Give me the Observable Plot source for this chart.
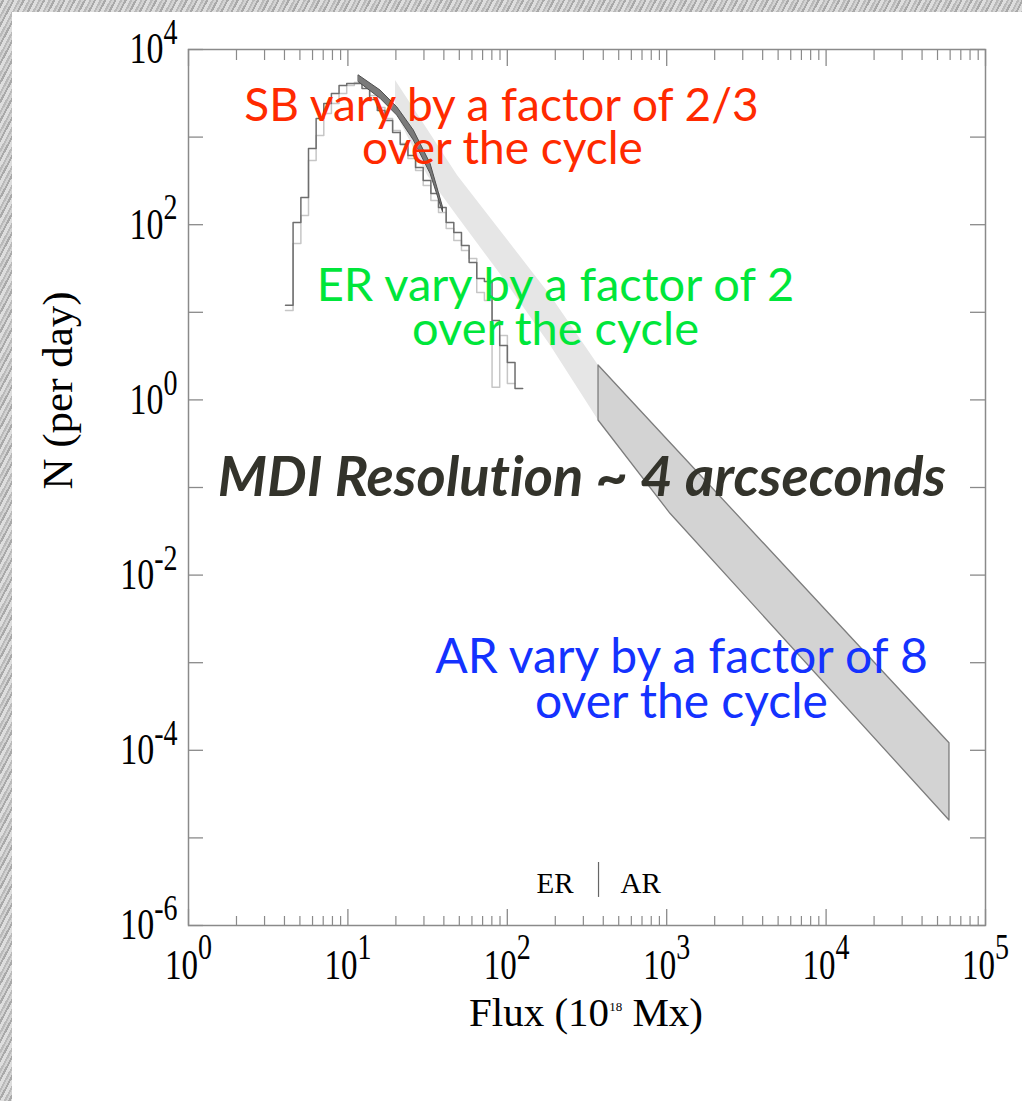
<!DOCTYPE html>
<html><head><meta charset="utf-8">
<script src="https://cdn.jsdelivr.net/npm/d3@7"></script>
<script src="https://cdn.jsdelivr.net/npm/@observablehq/plot@0.6"></script>
<style>
html,body{margin:0;padding:0;background:#fff;}
#wrap{position:relative;width:1022px;height:1101px;overflow:hidden;
 background: repeating-linear-gradient(118deg,#d2d2d2 0px,#d2d2d2 2px,#a9a9a9 2px,#a9a9a9 4px,#dedede 4px,#dedede 7px,#bababa 7px,#bababa 9px);}
#panel{position:absolute;left:12px;top:12px;right:0;bottom:0;background:#fff;}
#chart{position:absolute;left:0;top:0;}
svg text{font-variant-ligatures:none;}
</style></head><body><div id="wrap"><div id="panel"></div><div id="chart"></div></div>
<script>
// ---------- data ----------
// histogram bin edges, flux in 10^18 Mx
const binEdges = [4.06, 4.53, 5.07, 5.66, 6.32, 7.06, 7.88, 8.8, 9.83, 10.98, 12.26, 13.69, 15.29, 17.08, 19.08, 21.31, 23.8, 26.58, 29.68, 33.15, 37.03, 41.35, 46.18, 51.58, 57.6, 64.33, 71.85, 80.24, 89.62, 100.1, 111.8, 124.9];
// N per day in each bin: dark histogram and light histogram
const darkCounts = [12.0, 106, 205, 741, 1630, 2420, 3150, 3880, 4090, 4090, 3590, 2690, 2010, 1550, 1130, 824, 617, 450, 320, 227, 157, 106, 81.5, 58, 37, 24.3, 22.5, 8.05, 4.18, 2.67, 1.35];
const lightCounts = [10.5, 61, 127, 541, 1040, 1860, 2420, 3150, 3880, 4200, 3980, 2990, 2180, 1630, 1190, 845, 570, 416, 280, 189, 138, 90.5, 66, 50.7, 41.1, 16.8, 13.6, 1.39, 5.43, 1.54];

// small-bipole (SB) band
const sbFlux  = [11.71, 16.02, 20.39, 25.91, 32.98, 39.5];
const sbUpper = [5050, 3400, 2190, 1190, 496, 158];
const sbLower = [4230, 2740, 1760, 915, 381, 139];

// ephemeral-region (ER) band (light)
const erFlux  = [19.9, 31.6, 48.7, 90.7, 186.6, 373.5];
const erUpper = [4430, 1222, 365, 84.7, 15.6, 2.47];
const erLower = [1910, 365, 124, 27, 4.18, 0.582];

// active-region (AR) band
const arFlux  = [373.5, 1056, 59430];
const arUpper = [2.47, 0.322, 1.205e-4];
const arLower = [0.582, 0.0501, 1.58e-5];

// ER | AR divider
const boundaryFlux = 373.5;
const dividerN = [2.09e-6, 5.24e-6];
const dividerLabelN = 2.38e-6;
const dividerLabels = ["ER", "AR"];

// annotations
const noteText  = ["SB vary by a factor of 2/3", "over the cycle", "ER vary by a factor of 2", "over the cycle", "MDI Resolution ~ 4 arcseconds", "AR vary by a factor of 8", "over the cycle"];
const noteGroup = ["SB", "SB", "ER", "ER", "MDI", "AR", "AR"];
const noteFlux  = [92, 93.3, 200.7, 200.7, 294, 1238, 1238];
const noteN     = [1547, 486.7, 13.6, 4.18, 0.081, 7.53e-4, 2.31e-4];

// axes
const xMajor = [1, 10, 100, 1e3, 1e4, 1e5];
const xMinor = [];
for (const k of [1, 10, 100, 1e3, 1e4]) for (let m = 2; m <= 9; m++) xMinor.push(m * k);
const yMajor = [1e-6, 1e-5, 1e-4, 1e-3, 1e-2, 1e-1, 1, 10, 100, 1e3, 1e4];
const yLabeled = [1e-6, 1e-4, 1e-2, 1, 100, 1e4];
const xTitle = "Flux (10^{18} Mx)";
const yTitle = "N (per day)";

// ---------- chart ----------
const W = 1022, H = 1101, ML = 188, MR = 37, MT = 49, MB = 176;
const FW = W - ML - MR, FH = H - MT - MB;
const hist = (edges, counts) => counts.map((c, i) => ({flux: edges[i], n: c}))
  .concat([{flux: edges[counts.length], n: counts[counts.length - 1]}]);
const band = (fx, up, lo) => fx.map((f, i) => ({flux: f, hi: up[i], lo: lo[i]}));
const fmt = d => `10^{${Math.round(Math.log10(d))}}`;
const idx = g => noteText.map((_, i) => i).filter(i => noteGroup[i] === g);
const noteMark = (g, color, extra = {}) => Plot.text(idx(g), {
  x: i => noteFlux[i], y: i => noteN[i], text: i => noteText[i],
  fill: color, fontSize: 47, fontFamily: "Lato", lineAnchor: "bottom", textAnchor: "middle", ...extra
});
const tickColor = "#8a8a8a";

const chart = Plot.plot({
  width: W, height: H,
  marginLeft: ML, marginRight: MR, marginTop: MT, marginBottom: MB,
  style: {background: "transparent", fontFamily: "'Liberation Serif', serif", color: "#000", overflow: "visible"},
  x: {type: "log", domain: [1, 1e5], label: null},
  y: {type: "log", domain: [1e-6, 1e4], label: null},
  marks: [
    Plot.areaY(band(erFlux, erUpper, erLower), {x: "flux", y1: "lo", y2: "hi", fill: "#e6e6e6"}),
    Plot.areaY(band(arFlux, arUpper, arLower), {x: "flux", y1: "lo", y2: "hi", fill: "#d3d3d3", stroke: "#7d7d7d", strokeWidth: 1.3}),
    Plot.line(hist(binEdges, lightCounts), {x: "flux", y: "n", curve: "step-after", stroke: "#c6c6c6", strokeWidth: 1.5}),
    Plot.line(hist(binEdges, darkCounts), {x: "flux", y: "n", curve: "step-after", stroke: "#6e6e6e", strokeWidth: 1.5}),
    Plot.areaY(band(sbFlux, sbUpper, sbLower), {x: "flux", y1: "lo", y2: "hi", fill: "#7a7a7a", stroke: "#4f4f4f", strokeWidth: 1}),
    Plot.frame({stroke: tickColor, strokeWidth: 1.5}),
    // inward ticks
    Plot.ruleX(xMajor, {insetTop: FH - 16, stroke: tickColor, strokeWidth: 1.3}),
    Plot.ruleX(xMinor, {insetTop: FH - 9, stroke: tickColor, strokeWidth: 1.2}),
    Plot.ruleX(xMajor, {insetBottom: FH - 17, stroke: tickColor, strokeWidth: 1.3}),
    Plot.ruleX(xMinor, {insetBottom: FH - 11, stroke: tickColor, strokeWidth: 1.2}),
    Plot.ruleY(yMajor, {insetRight: FW - 15, stroke: tickColor, strokeWidth: 1.3}),
    Plot.ruleY(yMajor, {insetLeft: FW - 15, stroke: tickColor, strokeWidth: 1.3}),
    // tick labels
    Plot.axisX({ticks: xMajor, anchor: "bottom", tickSize: 0, tickPadding: 23, fontSize: 33, tickFormat: fmt, label: null}),
    Plot.axisY({ticks: yLabeled, anchor: "left", tickSize: 0, tickPadding: 11, fontSize: 34, tickFormat: fmt, label: null}),
    // axis titles
    Plot.text([xTitle], {frameAnchor: "bottom", dx: -1, dy: 100, fontSize: 41, lineAnchor: "bottom", fill: "#000"}),
    Plot.text([yTitle], {frameAnchor: "left", rotate: -90, dx: -117, dy: 2, fontSize: 43, lineAnchor: "bottom", fill: "#000"}),
    // ER | AR divider
    Plot.ruleX([boundaryFlux], {y1: dividerN[0], y2: dividerN[1], stroke: "#666", strokeWidth: 1.2}),
    Plot.text([dividerLabels[0]], {x: boundaryFlux, y: dividerLabelN, dx: -25, textAnchor: "end", lineAnchor: "bottom", fontSize: 29, fill: "#000"}),
    Plot.text([dividerLabels[1]], {x: boundaryFlux, y: dividerLabelN, dx: 22, textAnchor: "start", lineAnchor: "bottom", fontSize: 29, fill: "#000"}),
    // annotations
    noteMark("SB", "#ff2a00", {fontSize: 46}),
    noteMark("ER", "#00e63a"),
    noteMark("AR", "#1432ff", {fontSize: 48}),
    noteMark("MDI", "#33332b", {fontSize: 56, fontWeight: "bold", fontStyle: "italic"})
  ]
});
document.getElementById("chart").appendChild(chart);

// ---------- superscripts & tall tick numerals ----------
const NS = "http://www.w3.org/2000/svg";
function applySup(t, supSize, raise) {
  const m = t.textContent.match(/^(.*)\^\{(.*?)\}(.*)$/);
  if (!m) return;
  while (t.firstChild) t.removeChild(t.firstChild);
  t.appendChild(document.createTextNode(m[1]));
  const sp = document.createElementNS(NS, "tspan");
  sp.setAttribute("font-size", supSize);
  sp.setAttribute("dy", -raise);
  sp.textContent = m[2];
  t.appendChild(sp);
  if (m[3]) {
    const r = document.createElementNS(NS, "tspan");
    r.setAttribute("dy", raise);
    r.textContent = m[3];
    t.appendChild(r);
  }
}
function stretchY(t, k) {
  const tr = t.getAttribute("transform");
  if (tr && /translate/.test(tr)) t.setAttribute("transform", tr + ` scale(1,${k})`);
  else {
    const x = parseFloat(t.getAttribute("x")) || 0, y = parseFloat(t.getAttribute("y")) || 0;
    t.setAttribute("transform", `translate(${x},${y}) scale(1,${k}) translate(${-x},${-y})`);
  }
}
chart.querySelectorAll('g[aria-label$="tick label"] text').forEach(t => { applySup(t, 28, 15); stretchY(t, 1.28); });
chart.querySelectorAll("text").forEach(t => { if (t.textContent.includes("^{")) applySup(t, 13, 15); });
</script></body></html>
